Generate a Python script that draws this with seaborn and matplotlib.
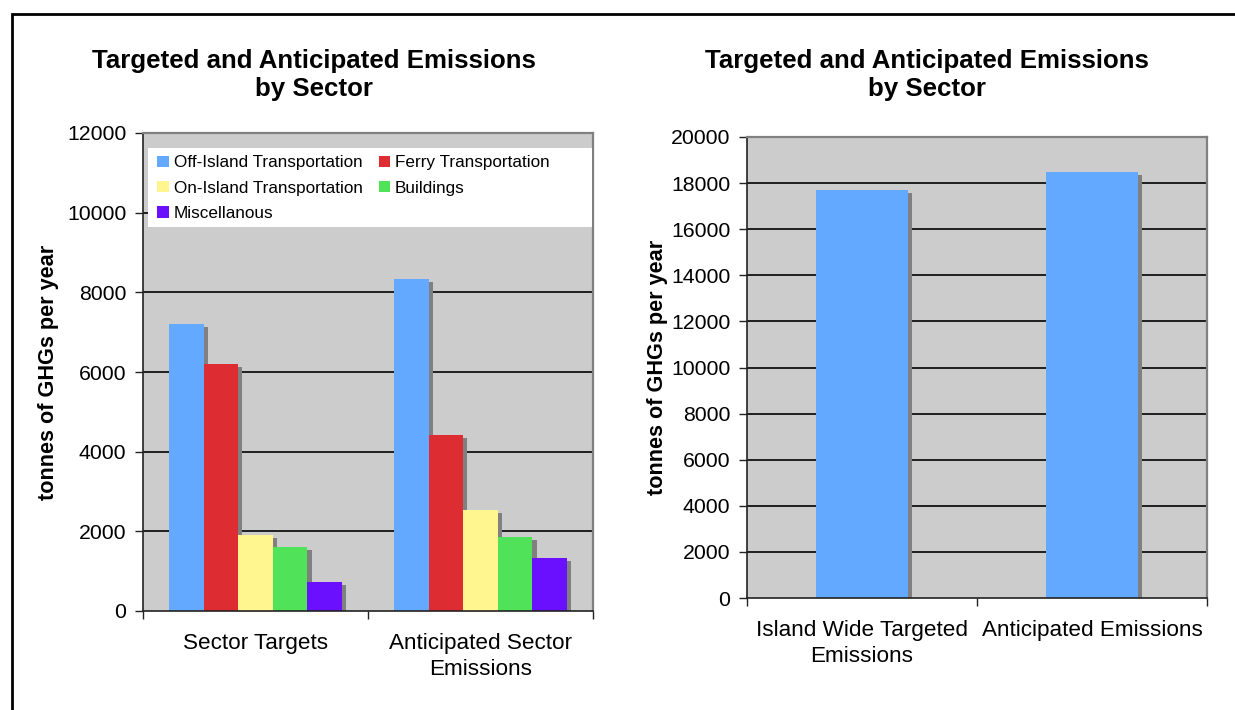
import matplotlib
matplotlib.use("Agg")
import matplotlib.pyplot as plt
import matplotlib.patheffects as pe
from matplotlib.patches import Rectangle, Patch
import seaborn as sns
import pandas as pd

# ---- data ----
groups = ["Sector Targets", "Anticipated Sector\nEmissions"]
sectors = ["Off-Island Transportation", "Ferry Transportation",
           "On-Island Transportation", "Buildings", "Miscellanous"]
sector_targets = [7200, 6200, 1900, 1600, 730]
sector_anticipated = [8330, 4420, 2540, 1850, 1330]

totals_labels = ["Island Wide Targeted\nEmissions", "Anticipated Emissions"]
totals_values = [17700, 18500]

sector_colors = ["#63A9FF", "#DD2C32", "#FFF68F", "#50E35A", "#6A10FF"]
plot_bg = "#CCCCCC"
shadow_color = "#808080"

left_yticks = [0, 2000, 4000, 6000, 8000, 10000, 12000]
right_yticks = list(range(0, 20001, 2000))

sns.set_theme(style="white")
plt.rcParams["font.family"] = ["Liberation Sans", "DejaVu Sans"]
plt.rcParams.update({"text.color": "black", "axes.labelcolor": "black",
                     "xtick.color": "black", "ytick.color": "black"})

W, H = 1235, 710
fig = plt.figure(figsize=(W / 100, H / 100), dpi=100)
fig.patch.set_facecolor("white")


def px_axes(x0, y0, x1, y1):
    return fig.add_axes([x0 / W, 1 - y1 / H, (x1 - x0) / W, (y1 - y0) / H])


shadow = [pe.SimplePatchShadow(offset=(2.9, -2.2), shadow_rgbFace=shadow_color, alpha=1.0),
          pe.Normal()]


def style_axes(ax, ymax, yticks):
    ax.set_facecolor(plot_bg)
    ax.set_ylim(0, ymax)
    ax.set_yticks(yticks)
    ax.set_yticklabels([str(t) for t in yticks], fontsize=15.3)
    for t in yticks[1:-1]:
        ax.axhline(t, color="#111111", lw=1.3, zorder=0.5)
    for side in ["top", "right"]:
        ax.spines[side].set_color("#808080")
        ax.spines[side].set_linewidth(1.6)
    for side in ["left", "bottom"]:
        ax.spines[side].set_color("#222222")
        ax.spines[side].set_linewidth(1.2)
    ax.tick_params(axis="y", direction="out", length=6, width=1.0, color="#222222",
                   left=True, pad=6)
    ax.set_xlabel("")
    ax.set_ylabel("tonnes of GHGs per year", fontsize=15.6, fontweight="bold")


def category_ticks(ax, n):
    ax.set_xlim(-0.5, n - 0.5)
    ax.set_xticks([i - 0.5 for i in range(n + 1)], minor=True)
    ax.tick_params(axis="x", which="minor", direction="out", length=6, width=1.0,
                   color="#222222", bottom=True)
    ax.tick_params(axis="x", which="major", length=0, pad=16)
    for lab in ax.get_xticklabels():
        lab.set_fontsize(16.2)
        lab.set_linespacing(1.28)


# ---- left: by sector ----
ax1 = px_axes(143, 133, 593, 611)
df = pd.DataFrame({
    "group": [groups[0]] * len(sectors) + [groups[1]] * len(sectors),
    "sector": sectors * 2,
    "value": sector_targets + sector_anticipated,
})
sns.barplot(data=df, x="group", y="value", hue="sector", order=groups,
            hue_order=sectors, palette=sector_colors, width=0.77,
            saturation=1, linewidth=0, ax=ax1, legend=False, zorder=2)
for p in ax1.patches:
    p.set_path_effects(shadow)
style_axes(ax1, 12000, left_yticks)
category_ticks(ax1, len(groups))
ax1.yaxis.set_label_coords(-0.187, 0.5)

# white legend panel
ax1.add_patch(Rectangle(((148 - 143) / 450, 1 - (227 - 133) / 478),
                        (592 - 148) / 450, (227 - 148) / 478,
                        transform=ax1.transAxes, facecolor="white",
                        edgecolor="none", zorder=3))
order = [0, 2, 4, 1, 3]
handles = [Patch(facecolor=sector_colors[i], edgecolor="none") for i in order]
leg = ax1.legend(handles, [sectors[i] for i in order], ncol=2, loc="upper left",
                 bbox_to_anchor=((154 - 143) / 450, 1 - (152 - 133) / 478),
                 fontsize=12.3, frameon=False, handlelength=0.65,
                 handleheight=0.65, handletextpad=0.3, labelspacing=0.6,
                 borderpad=0.2, columnspacing=0.95, borderaxespad=0)
leg.set_zorder(4)

# ---- right: totals ----
ax2 = px_axes(747, 137, 1207, 598)
sns.barplot(x=totals_labels, y=totals_values, color=sector_colors[0], width=0.40,
            saturation=1, linewidth=0, ax=ax2, zorder=2)
for p in ax2.patches:
    p.set_path_effects(shadow)
style_axes(ax2, 20000, right_yticks)
category_ticks(ax2, len(totals_labels))
ax2.yaxis.set_label_coords(-0.172, 0.5)

# ---- titles ----
title = "Targeted and Anticipated Emissions\nby Sector"
fig.text(314 / W, 1 - 75 / H, title, ha="center", va="center", fontsize=18.6,
         fontweight="bold", linespacing=1.22)
fig.text(927 / W, 1 - 75 / H, title, ha="center", va="center", fontsize=18.6,
         fontweight="bold", linespacing=1.22)

# ---- outer frame ----
fig.add_artist(Rectangle((12 / W, -0.1), 1.2, (1 - 14 / H) + 0.1,
                         transform=fig.transFigure, fill=False,
                         edgecolor="black", linewidth=2.0))

fig.savefig("out.png", dpi=100)
